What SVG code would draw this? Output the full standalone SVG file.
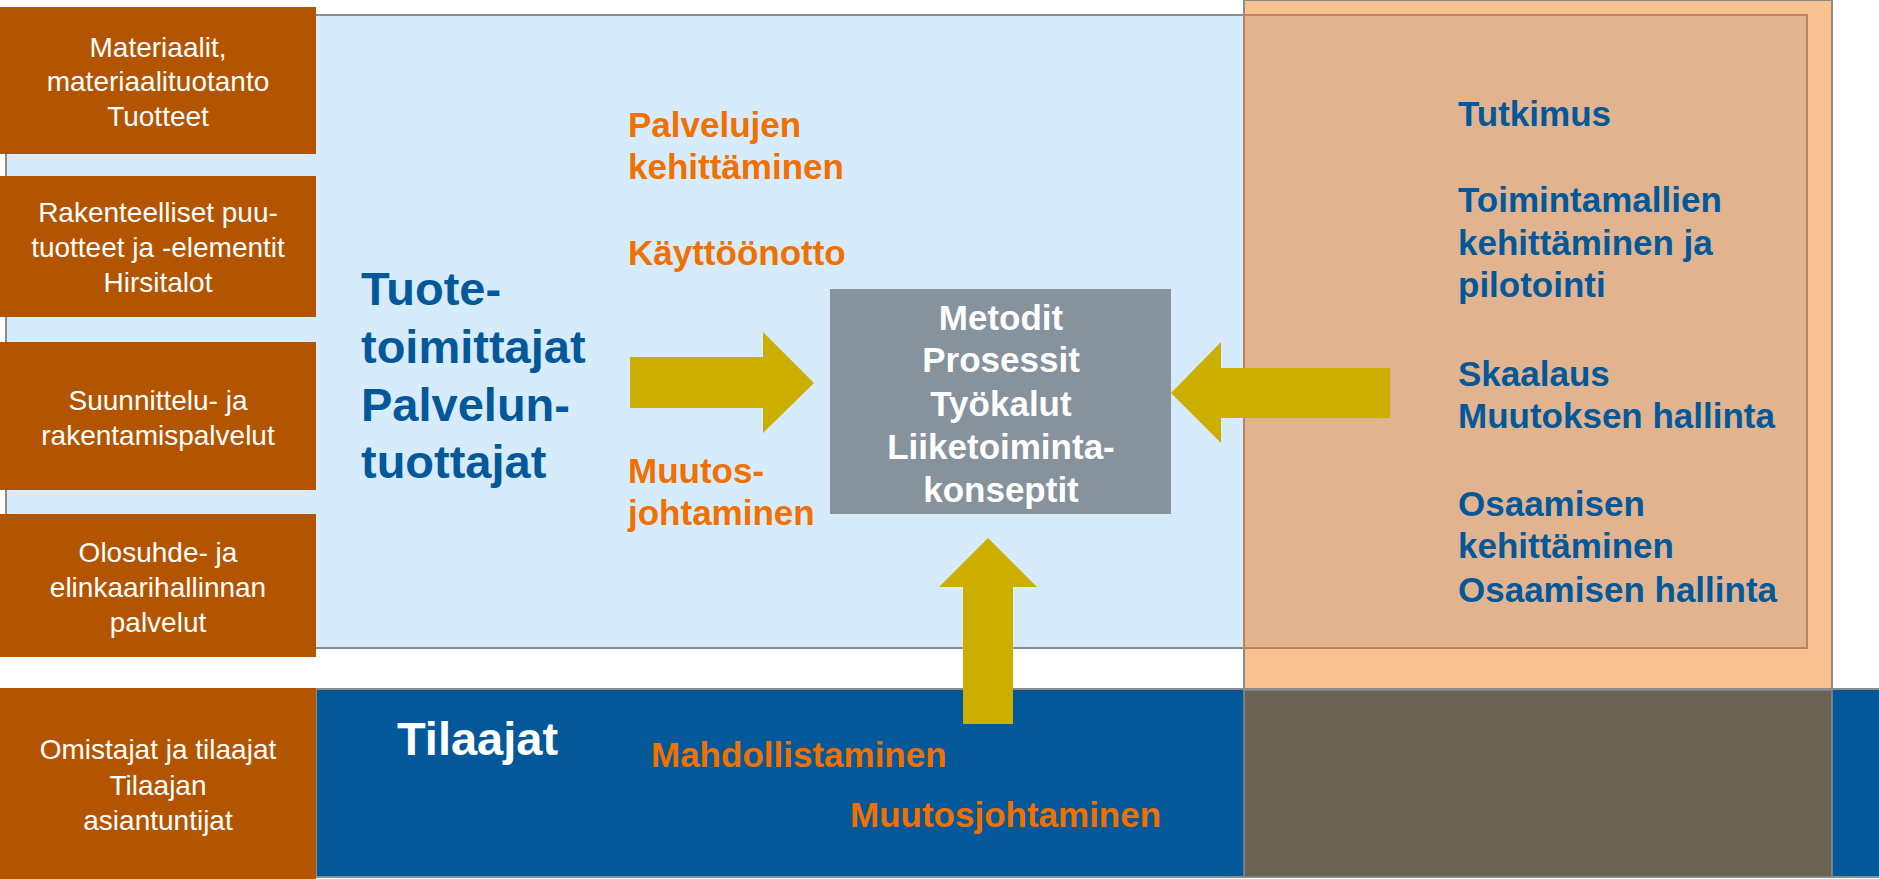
<svg xmlns="http://www.w3.org/2000/svg" width="1879" height="879" viewBox="0 0 1879 879">
<style>
text{font-family:"Liberation Sans",Arial,sans-serif}
.box{fill:#B35500}
.bt{fill:#FFFFFF;font-size:28px;text-anchor:middle}
.or{fill:#F07000;font-size:35px;font-weight:bold}
.bl{fill:#03589A;font-size:35px;font-weight:bold}
.big{fill:#03589A;font-size:47px;font-weight:bold}
.wb{fill:#FFFFFF;font-weight:bold}
.arrow{fill:#CBAE00}
</style>
<rect width="1879" height="879" fill="#FFFFFF"/>
<g id="background">
  <rect id="panel-blue" x="6" y="15" width="1238" height="633" fill="#D6EBFC" stroke="#8C8C8C" stroke-width="2"/>
  <rect id="column-orange" x="1244" y="0" width="588" height="690" fill="#F7C190" stroke="#8C8C8C" stroke-width="2"/>
  <rect id="inner-tan" x="1244" y="15" width="563" height="633" fill="#E1B48F" stroke="#B98559" stroke-width="2"/>
  <rect id="band-tilaajat" x="316" y="689" width="1565" height="188" fill="#03589A" stroke="#8C8C8C" stroke-width="2"/>
  <rect id="band-brown" x="1244" y="690" width="588" height="187" fill="#6A6252" stroke="#8C8C8C" stroke-width="1.5"/>
</g>
<g id="box-materiaalit">
  <rect class="box" x="0" y="7" width="316" height="147"/>
  <text class="bt" x="158" y="57">Materiaalit,</text>
  <text class="bt" x="158" y="91">materiaalituotanto</text>
  <text class="bt" x="158" y="126">Tuotteet</text>
</g>
<g id="box-rakenteelliset">
  <rect class="box" x="0" y="176" width="316" height="141"/>
  <text class="bt" x="158" y="222">Rakenteelliset puu-</text>
  <text class="bt" x="158" y="257">tuotteet ja -elementit</text>
  <text class="bt" x="158" y="292">Hirsitalot</text>
</g>
<g id="box-suunnittelu">
  <rect class="box" x="0" y="342" width="316" height="148"/>
  <text class="bt" x="158" y="410">Suunnittelu- ja</text>
  <text class="bt" x="158" y="445">rakentamispalvelut</text>
</g>
<g id="box-olosuhde">
  <rect class="box" x="0" y="514" width="316" height="143"/>
  <text class="bt" x="158" y="562">Olosuhde- ja</text>
  <text class="bt" x="158" y="597">elinkaarihallinnan</text>
  <text class="bt" x="158" y="632">palvelut</text>
</g>
<g id="box-omistajat">
  <rect class="box" x="0" y="688" width="316" height="191"/>
  <text class="bt" x="158" y="759">Omistajat ja tilaajat</text>
  <text class="bt" x="158" y="795">Tilaajan</text>
  <text class="bt" x="158" y="830">asiantuntijat</text>
</g>
<g id="label-toimittajat">
  <text class="big" x="361" y="305">Tuote-</text>
  <text class="big" x="361" y="363">toimittajat</text>
  <text class="big" x="361" y="421">Palvelun-</text>
  <text class="big" x="361" y="478">tuottajat</text>
</g>
<g id="label-palvelut">
  <text class="or" x="628" y="137">Palvelujen</text>
  <text class="or" x="628" y="179">kehittäminen</text>
  <text class="or" x="628" y="265">Käyttöönotto</text>
  <text class="or" x="628" y="483">Muutos-</text>
  <text class="or" x="628" y="525">johtaminen</text>
</g>
<g id="label-tilaajat">
  <text class="wb" x="397" y="755" font-size="47">Tilaajat</text>
  <text class="or" x="651" y="767">Mahdollistaminen</text>
  <text class="or" x="850" y="827">Muutosjohtaminen</text>
</g>
<g id="label-tutkimus">
  <text class="bl" x="1458" y="126">Tutkimus</text>
  <text class="bl" x="1458" y="212">Toimintamallien</text>
  <text class="bl" x="1458" y="255">kehittäminen ja</text>
  <text class="bl" x="1458" y="297">pilotointi</text>
  <text class="bl" x="1458" y="386">Skaalaus</text>
  <text class="bl" x="1458" y="428">Muutoksen hallinta</text>
  <text class="bl" x="1458" y="516">Osaamisen</text>
  <text class="bl" x="1458" y="558">kehittäminen</text>
  <text class="bl" x="1458" y="602">Osaamisen hallinta</text>
</g>
<g id="node-metodit">
  <rect x="830" y="289" width="341" height="225" fill="#86929C"/>
  <text class="wb" x="1001" y="330" font-size="35" text-anchor="middle">Metodit</text>
  <text class="wb" x="1001" y="372" font-size="35" text-anchor="middle">Prosessit</text>
  <text class="wb" x="1001" y="416" font-size="35" text-anchor="middle">Työkalut</text>
  <text class="wb" x="1001" y="459" font-size="35" text-anchor="middle">Liiketoiminta-</text>
  <text class="wb" x="1001" y="502" font-size="35" text-anchor="middle">konseptit</text>
</g>
<g id="connectors">
  <polygon class="arrow" points="630,357 763,357 763,332 814,383 763,433 763,408 630,408"/>
  <polygon class="arrow" points="1390,368 1221,368 1221,342 1171,393 1221,443 1221,418 1390,418"/>
  <polygon class="arrow" points="963,724 963,587 939,587 988,538 1037,587 1013,587 1013,724"/>
</g>
</svg>
